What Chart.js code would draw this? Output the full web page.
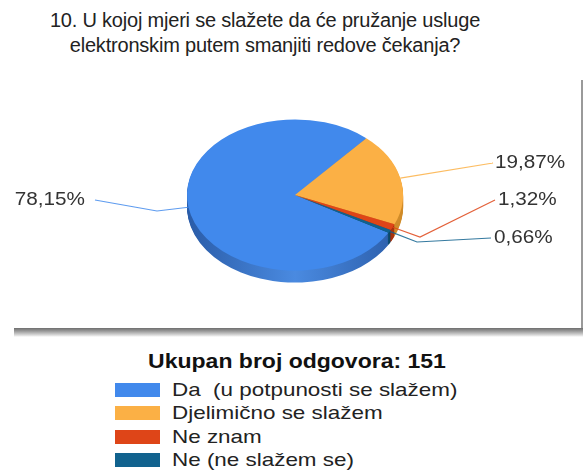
<!DOCTYPE html>
<html>
<head>
<meta charset="utf-8">
<script src="https://cdn.jsdelivr.net/npm/chart.js@4.4.1/dist/chart.umd.min.js"></script>
<style>
  body { margin: 0; background: #fff; font-family: "Liberation Sans", Arial, sans-serif; }
  #wrap { position: relative; width: 584px; height: 470px; overflow: hidden; }
  #box { position: absolute; left: 12px; top: 80px; width: 569px; height: 248px; background: #fff;
         border-right: 2px solid #9a9a9a; }
  #shadow { position: absolute; left: 14px; top: 328px; width: 569px; height: 9px;
            background: linear-gradient(#6e6e6e, #9a9a9a 35%, #dcdcdc 80%, #fff); }
  #title { position: absolute; left: 0; top: 8px; width: 530px; text-align: center; font-size: 20px;
           line-height: 25px; color: #222; letter-spacing: -0.2px; }
  #c { position: absolute; left: 0; top: 0; }
  #legend { position: absolute; left: 0; top: 350px; width: 584px; }
  #legend .lt { position: relative; height: 29px; }
  #legend .lt span { position: absolute; left: 297px; top: 0; white-space: pre; font-weight: bold; font-size: 20px;
                     color: #111; transform: translateX(-50%) scaleX(1.15); }
  #legend .row { position: relative; height: 23.3px; font-size: 19px; color: #222; }
  #legend .sw { position: absolute; left: 115px; top: 4px; width: 45px; height: 14px; }
  #legend .tx { position: absolute; left: 172px; top: 0px; white-space: pre; transform-origin: 0 50%; transform: scaleX(1.18); }
</style>
</head>
<body>
<div id="wrap">
  <div id="box"></div>
  <div id="shadow"></div>
  <div id="title">10. U kojoj mjeri se slažete da će pružanje usluge<br>elektronskim putem smanjiti redove čekanja?</div>
  <canvas id="c" width="584" height="340"></canvas>
  <div id="legend"></div>
</div>
<script>
const labels = ['Da  (u potpunosti se slažem)', 'Djelimično se slažem', 'Ne znam', 'Ne (ne slažem se)'];
const counts = [118, 30, 2, 1];
const colors = ['#4189ec', '#fbb045', '#de4518', '#11628e'];
const sideColors = ['#2f68bd', '#d08c2a', '#a8330f', '#0b4a6c'];

const total = counts.reduce((a, b) => a + b, 0);
const pctText = counts.map(v => (v / total * 100).toFixed(2).replace('.', ',') + '%');

// legend in html
const legend = document.getElementById('legend');
legend.innerHTML = '<div class="lt"><span>Ukupan broj odgovora: ' + total + '</span></div>' +
  labels.map((l, i) => '<div class="row"><div class="sw" style="background:' + colors[i] + '"></div><div class="tx">' + l + '</div></div>').join('');

const squash = 0.7;
const depth = 12;
// elbow + label positions for the leader lines
const labelPos = [
  { ex: 157, ey: 211, lx: 93, ly: 200, align: 'right' },
  { ex: 493, ey: 163, lx: 495, ly: 163, align: 'left' },
  { ex: 420, ey: 237, lx: 498, ly: 200, align: 'left' },
  { ex: 417, ey: 242, lx: 494, ly: 238, align: 'left' },
];

function tilt(ctx, arc) {
  ctx.translate(arc.x, arc.y);
  ctx.scale(1, squash);
  ctx.translate(-arc.x, -arc.y);
}

const pie3d = {
  id: 'pie3d',
  beforeDatasetsDraw(chart) {
    const ctx = chart.ctx;
    const arcs = chart.getDatasetMeta(0).data;
    const a0 = arcs[0];
    const r = a0.outerRadius;
    for (let d = depth; d >= 1; d--) {
      ctx.save();
      ctx.translate(0, d);
      tilt(ctx, a0);
      arcs.forEach((arc, i) => {
        let fill = sideColors[i];
        if (i === 0) {
          const g = ctx.createLinearGradient(a0.x - r, 0, a0.x + r, 0);
          g.addColorStop(0, '#2a5ca8');
          g.addColorStop(0.5, '#4a8ae0');
          g.addColorStop(1, '#2a5ca8');
          fill = g;
        }
        const fake = Object.create(arc, {
          options: { value: Object.assign({}, arc.options, { backgroundColor: fill, borderWidth: 0 }) }
        });
        Chart.ArcElement.prototype.draw.call(fake, ctx);
      });
      ctx.restore();
    }
    ctx.save();
    tilt(ctx, a0);
  },
  afterDatasetsDraw(chart) {
    const ctx = chart.ctx;
    ctx.restore();
    const arcs = chart.getDatasetMeta(0).data;
    ctx.save();
    ctx.textBaseline = 'middle';
    ctx.lineWidth = 1.2;
    arcs.forEach((arc, i) => {
      const mid = (arc.startAngle + arc.endAngle) / 2;
      const sx = arc.x + Math.cos(mid) * arc.outerRadius;
      const sy = arc.y + Math.sin(mid) * arc.outerRadius * squash;
      const p = labelPos[i];
      ctx.strokeStyle = colors[i];
      ctx.globalAlpha = 0.85;
      ctx.beginPath();
      ctx.moveTo(sx, sy);
      ctx.lineTo(p.ex, p.ey);
      ctx.lineTo(p.lx + (p.align === 'right' ? 2 : -3), p.ly);
      ctx.stroke();
      ctx.globalAlpha = 1;
      // stretched text like the original
      ctx.save();
      ctx.font = '18px "Liberation Sans", Arial, sans-serif';
      ctx.fillStyle = '#333';
      ctx.textAlign = p.align;
      const tx = p.align === 'right' ? p.lx - 8 : p.lx;
      ctx.translate(tx, p.ly);
      ctx.scale(1.15, 1);
      ctx.fillText(pctText[i], 0, 0);
      ctx.restore();
    });
    ctx.restore();
  }
};

new Chart(document.getElementById('c'), {
  type: 'pie',
  data: {
    labels: labels,
    datasets: [{ data: counts, backgroundColor: colors, borderWidth: 0 }]
  },
  options: {
    responsive: false,
    animation: false,
    rotation: 120,
    layout: { padding: { left: 187, right: 181, top: 87, bottom: 37 } },
    plugins: { legend: { display: false }, tooltip: { enabled: false } }
  },
  plugins: [pie3d]
});
</script>
</body>
</html>
